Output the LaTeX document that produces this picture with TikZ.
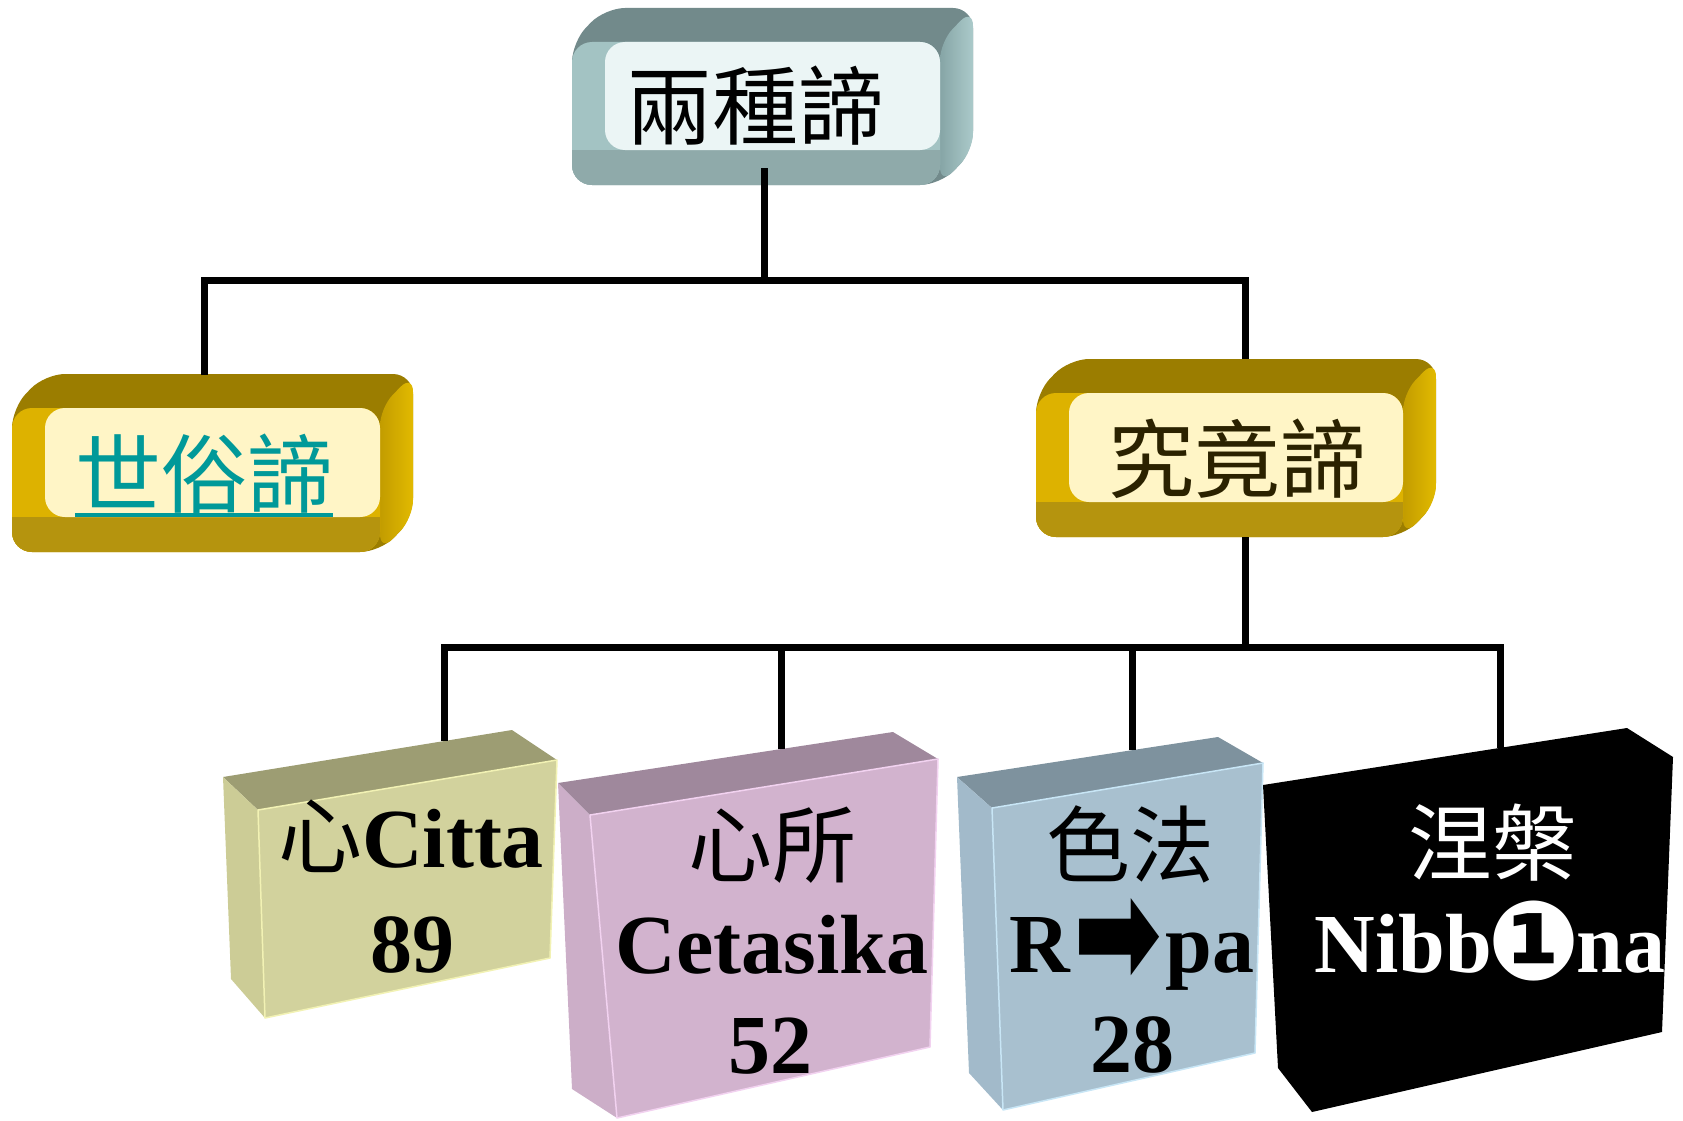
\documentclass[tikz,border=0pt]{standalone}
\usepackage{fontspec}
\setmainfont{Liberation Serif}
\newfontfamily\cjk{Noto Sans CJK TC}
\newfontfamily\dv{DejaVu Sans}
\usetikzlibrary{calc}
\usepackage{graphicx}

\definecolor{tltop}{HTML}{728A8B}
\definecolor{tlsideA}{HTML}{86A5A6}
\definecolor{tlsideB}{HTML}{ABCACA}
\definecolor{tlleft}{HTML}{A3C3C3}
\definecolor{tlbot}{HTML}{8FAAAA}
\definecolor{tlinner}{HTML}{EBF5F5}
\definecolor{gdtop}{HTML}{9B7D00}
\definecolor{gdsideA}{HTML}{C29C00}
\definecolor{gdsideB}{HTML}{E2BA00}
\definecolor{gdleft}{HTML}{DDB200}
\definecolor{gdbot}{HTML}{B5940E}
\definecolor{gdinner}{HTML}{FFF5C6}
\definecolor{cttop}{HTML}{9D9D73}
\definecolor{ctfront}{HTML}{D2D29D}
\definecolor{ctleft}{HTML}{CCCC96}
\definecolor{ctedge}{HTML}{F2F2B4}
\definecolor{cstop}{HTML}{9F889C}
\definecolor{csfront}{HTML}{D2B3CE}
\definecolor{csleft}{HTML}{CCAEC8}
\definecolor{csedge}{HTML}{F2D2F0}
\definecolor{rptop}{HTML}{7E929E}
\definecolor{rpfront}{HTML}{A8C0CF}
\definecolor{rpleft}{HTML}{A2BACA}
\definecolor{rpedge}{HTML}{C8E6F6}
\definecolor{sztext}{HTML}{009999}
\definecolor{jjtext}{HTML}{2B2200}

% bevelled box: x0 y0 x1 y1 colour-prefix
\newcommand{\bevbox}[5]{%
  \fill[#5top, rounded corners=20pt] (#1,#4) -- (#1,#2) -- ($(#1,#2)+(33,-34)$)
     -- ($(#3,#2)+(33,-34)$) -- ($(#3,#4)+(33,-34)$) -- (#3,#4) -- cycle;
  \shade[left color=#5sideA, right color=#5sideB, rounded corners=18pt]
     (#3,#2) -- ($(#3,#2)+(33,-34)$) -- ($(#3,#4)+(33,-34)$) -- (#3,#4) -- cycle;
  \fill[#5left, rounded corners=20pt] (#1,#2) rectangle (#3,#4);
  \begin{scope}
    \clip[rounded corners=20pt] (#1,#2) rectangle (#3,#4);
    \fill[#5bot] (#1,#4) rectangle ($(#3,#4)+(0,-35)$);
  \end{scope}
  \fill[#5inner, rounded corners=20pt] ($(#1,#2)+(33,0)$) rectangle ($(#3,#4)+(0,-35)$);
}

\tikzset{
  conn/.style={line width=7pt, line join=miter, draw=black},
  cjkbig/.style={font=\cjk\fontsize{86}{100}\selectfont, inner sep=0pt},
  cjkmid/.style={font=\cjk\fontsize{84}{100}\selectfont, inner sep=0pt},
  latb/.style={font=\bfseries\fontsize{84}{100}\selectfont, inner sep=0pt, anchor=base},
  edge3d/.style={line width=1.5pt, line join=round},
}

\begin{document}
\begin{tikzpicture}[x=1pt,y=-1pt]
\useasboundingbox (0,0) rectangle (1683,1121);

% ---- top level boxes
\bevbox{572}{42}{940}{185}{tl}
\bevbox{12}{408}{380}{552}{gd}
\bevbox{1036}{393}{1403}{537}{gd}

\node[cjkbig] (lzd) at (755,106) {兩種諦};
\node[cjkbig, text=sztext] (szd) at (204,474) {世俗諦};
\draw[sztext, line width=3.5pt] ([yshift=-1pt]szd.south west) -- ([yshift=-1pt]szd.south east);
\node[cjkbig, text=jjtext] (jjd) at (1237,459) {究竟諦};

% ---- bottom 3D boxes
% Citta
\fill[cttop] (223,777) -- (512,730) -- (557,760) -- (258,810) -- cycle;
\fill[ctleft] (223,777) -- (258,810) -- (265,1018) -- (231,979) -- cycle;
\filldraw[fill=ctfront, draw=ctedge, edge3d] (258,810) -- (557,760) -- (550,958) -- (265,1018) -- cycle;
% Cetasika
\fill[cstop] (558,783) -- (893,732) -- (938,759) -- (590,815) -- cycle;
\fill[csleft] (558,783) -- (590,815) -- (617,1118) -- (572,1089) -- cycle;
\filldraw[fill=csfront, draw=csedge, edge3d] (590,815) -- (938,759) -- (930,1047) -- (617,1118) -- cycle;
% Rupa
\fill[rptop] (957,777) -- (1218,737) -- (1263,763) -- (992,808) -- cycle;
\fill[rpleft] (957,777) -- (992,808) -- (1003,1110) -- (969,1073) -- cycle;
\filldraw[fill=rpfront, draw=rpedge, edge3d] (992,808) -- (1263,763) -- (1255,1053) -- (1003,1110) -- cycle;
% Nibbana
\fill[black] (1263,785) -- (1627,728) -- (1673,757) -- (1662,1032) -- (1312,1112) -- (1278,1068) -- cycle;

% ---- bottom texts
\node[latb] (citta1) at (411,867) {{\cjk\mdseries 心}Citta};
\node[latb] (citta2) at (412,972) {89};
\node[cjkmid] (cet1) at (772,845) {心所};
\node[latb] (cet2) at (772,973) {Cetasika};
\node[latb] (cet3) at (770,1073) {52};
\node[cjkmid] (rupa1) at (1130,844) {色法};
\node[latb] (rupa2) at (1132,972) {R\hspace{3pt}\smash{\raisebox{-10pt}{\resizebox{89pt}{84pt}{\dv ➡}}}\hspace{3pt}pa};
\node[latb] (rupa3) at (1132,1072) {28};
\node[cjkmid, text=white] (nib1) at (1492,843) {涅槃};
\node[latb, text=white] (nib2) at (1490,972) {Nibb\hspace{-4pt}\smash{\raisebox{-7pt}{\resizebox{93pt}{!}{\dv ❶}}}\hspace{-4pt}na};

% ---- connectors
\coordinate (tb) at (764,168);
\coordinate (j1) at (764,280);
\coordinate (lt) at (204,375);
\coordinate (rt) at (1245,359);
\coordinate (rb) at (1245,537);
\coordinate (j2) at (1245,647);
\coordinate (c1) at (444,741);
\coordinate (c2) at (781,749);
\coordinate (c3) at (1132,750);
\coordinate (c4) at (1500,748);

\draw[conn] (tb) -- (j1);
\draw[conn] (lt) |- (j1) -| (rt);
\draw[conn] (rb) -- (j2);
\draw[conn] (c1) |- (j2) -| (c4);
\draw[conn] (c2) -- (c2 |- j2);
\draw[conn] (c3) -- (c3 |- j2);
\end{tikzpicture}
\end{document}
